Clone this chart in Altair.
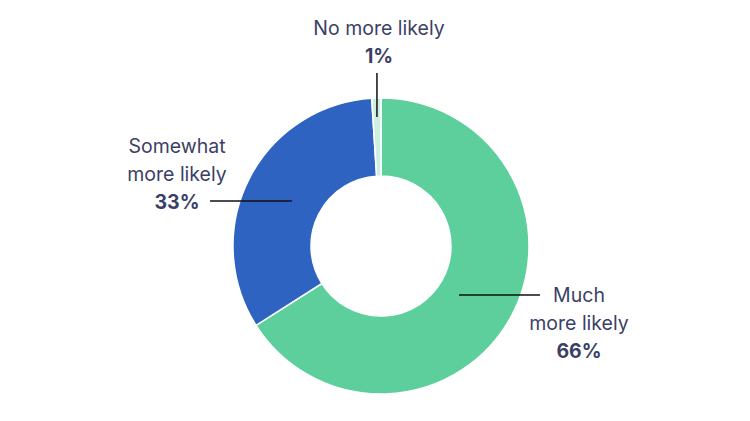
import altair as alt
import pandas as pd
import math

# ---- data ----
categories = ["Much more likely", "Somewhat more likely", "No more likely"]
values = [66, 33, 1]
label_lines = [["Much", "more likely"], ["Somewhat", "more likely"], ["No more likely"]]
colors = ["#5ccf9c", "#2f63c2", "#cdeee0"]

# ---- layout (pixel units relative to donut centre, y up) ----
W, H = 734, 405
CX, CY = 373, 238          # donut centre inside the plot area
R_OUT, R_IN = 148, 70
LINE_H = 28
# r: radius where the leader starts; end: (x, y) of the leader's far end
# (None = keep the start's coordinate); text: anchor of the percentage line
layout = {
    "Much more likely": dict(r=89, end=(159, -49), horiz=True, text=(198, -106)),
    "Somewhat more likely": dict(r=100, end=(-171, -45), horiz=True, text=(-204, 43)),
    "No more likely": dict(r=129, end=(None, 173), horiz=False, text=(-2, 189)),
}

total = sum(values)
arc_df = pd.DataFrame({"category": categories, "value": values,
                       "order": list(range(len(values)))})

rules, texts = [], []
cum = 0
for cat, v, lines in zip(categories, values, label_lines):
    mid = (cum + v / 2) / total * 2 * math.pi
    cum += v
    L = layout[cat]
    x0 = L["r"] * math.sin(mid)
    y0 = L["r"] * math.cos(mid)
    ex, ey = L["end"]
    if L["horiz"]:
        y0 = ey
        x1, y1 = ex, ey
    else:
        x1, y1 = x0, ey
    rules.append(dict(x=x0, y=y0, x2=x1, y2=y1))
    tx, ty = L["text"]
    n = len(lines)
    for i, ln in enumerate(lines):
        texts.append(dict(x=tx, y=ty + (n - i) * LINE_H, t=ln, bold=False))
    texts.append(dict(x=tx, y=ty, t=f"{v}%", bold=True))

# the 33% leader sits level with the percentage line
rules[1]["y"] = rules[1]["y2"] = 45

rule_df = pd.DataFrame(rules)
text_df = pd.DataFrame(texts)

xs = alt.Scale(domain=[-CX, W - CX], nice=False, zero=False)
ys = alt.Scale(domain=[-(H - CY), CY], nice=False, zero=False)

arc = alt.Chart(arc_df).mark_arc(
    outerRadius=R_OUT, innerRadius=R_IN, stroke="white", strokeWidth=1.5
).encode(
    theta=alt.Theta("value:Q", stack=True),
    order=alt.Order("order:Q"),
    color=alt.Color("category:N", scale=alt.Scale(domain=categories, range=colors), legend=None),
    x=alt.value(CX), y=alt.value(CY),
)

rule = alt.Chart(rule_df).mark_rule(color="#111111", strokeWidth=1.5).encode(
    x=alt.X("x:Q", scale=xs, axis=None),
    y=alt.Y("y:Q", scale=ys, axis=None),
    x2="x2:Q", y2="y2:Q",
)

txt_norm = alt.Chart(text_df[~text_df.bold]).mark_text(
    font="Inter", fontSize=19.5, color="#3b3f66", baseline="middle", align="center"
).encode(
    x=alt.X("x:Q", scale=xs, axis=None),
    y=alt.Y("y:Q", scale=ys, axis=None),
    text="t:N",
)
txt_bold = alt.Chart(text_df[text_df.bold]).mark_text(
    font="Inter", fontSize=19.5, fontWeight="bold", color="#3b3f66", baseline="middle", align="center"
).encode(
    x=alt.X("x:Q", scale=xs, axis=None),
    y=alt.Y("y:Q", scale=ys, axis=None),
    text="t:N",
)

chart = alt.layer(arc, rule, txt_norm, txt_bold).properties(
    width=W, height=H, padding=0, autosize="none", background="white"
).configure_view(stroke=None)

chart.save("out.html", embed_options={"renderer": "svg", "actions": False})
